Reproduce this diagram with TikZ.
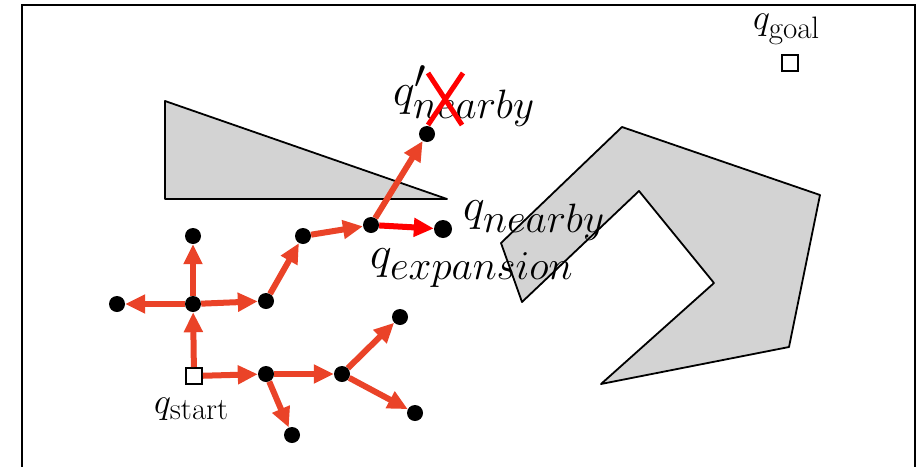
\RequirePackage{fix-cm}
\documentclass[tikz,border=0pt]{standalone}
\usepackage{tikz}
\usetikzlibrary{arrows.meta}
\DeclareMathSizes{36}{36}{31}{24}
\DeclareMathSizes{46}{46}{41}{30}
\definecolor{treered}{RGB}{234,67,40}
\definecolor{obstgray}{RGB}{211,211,211}

\begin{document}
\begin{tikzpicture}[x=1pt,y=-1pt,
  vtx/.style={circle,fill=black,inner sep=0pt,minimum size=16pt},
  sq/.style={rectangle,draw=black,fill=white,line width=2pt,inner sep=0pt,minimum size=16pt},
  tree/.style={treered,line width=6pt,-{Triangle[length=20pt,width=18pt]}},
  obst/.style={draw=black,fill=obstgray,line width=1.8pt,line join=round},
  small/.style={inner sep=0pt,anchor=base west,font=\fontsize{36}{40}\selectfont},
  big/.style={inner sep=0pt,anchor=base west,font=\fontsize{46}{50}\selectfont}]
\useasboundingbox (0,0) rectangle (923,466);
\draw[line width=2pt] (22,5) rectangle (915,480);
\filldraw[obst] (165,101) -- (165,199) -- (447,199) -- cycle;
\filldraw[obst] (622,127) -- (820,195) -- (789,347) -- (601,384) -- (714,283)
  -- (639,191) -- (522,302) -- (501,243) -- cycle;
\node[sq] (start) at (194,376) {};
\node[sq] (goal) at (790,63) {};
\node[vtx] (mid) at (193,304) {};
\node[vtx] (up) at (193,236) {};
\node[vtx] (left) at (117,304) {};
\node[vtx] (right) at (266,301) {};
\node[vtx] (climb) at (303,236) {};
\node[vtx] (expand) at (371,225) {};
\node[vtx] (blocked) at (427,134) {};
\node[vtx,minimum size=18pt] (near) at (443,229) {};
\node[vtx] (low) at (266,374) {};
\node[vtx] (fork) at (342,374) {};
\node[vtx] (forkup) at (400,317) {};
\node[vtx] (forkdown) at (415,413) {};
\node[vtx] (drop) at (292,435) {};
\draw[tree] (start) -- (mid);
\draw[tree] (mid) -- (up);
\draw[tree] (mid) -- (left);
\draw[tree] (mid) -- (right);
\draw[tree] (right) -- (climb);
\draw[tree] (climb) -- (expand);
\draw[tree] (expand) -- (blocked);
\draw[tree,red] (expand) -- (near);
\draw[tree] (start) -- (low);
\draw[tree] (low) -- (fork);
\draw[tree] (low) -- (drop);
\draw[tree] (fork) -- (forkup);
\draw[tree] (fork) -- (forkdown);
\node[small] (startlbl) at (154,413) {$q_{\mathrm{start}}$};
\node[small] (goallbl) at (753,29) {$q_{\mathrm{goal}}$};
\node[big] (blockedlbl) at (393,105) {$q'_{nearby}$};
\node[big] (nearlbl) at (463,220) {$q_{nearby}$};
\node[big] (expandlbl) at (370,268) {$q_{expansion}$};
\draw[red,line width=5pt] (428,73) -- (462,125) (463,73) -- (428,125);
\end{tikzpicture}
\end{document}
